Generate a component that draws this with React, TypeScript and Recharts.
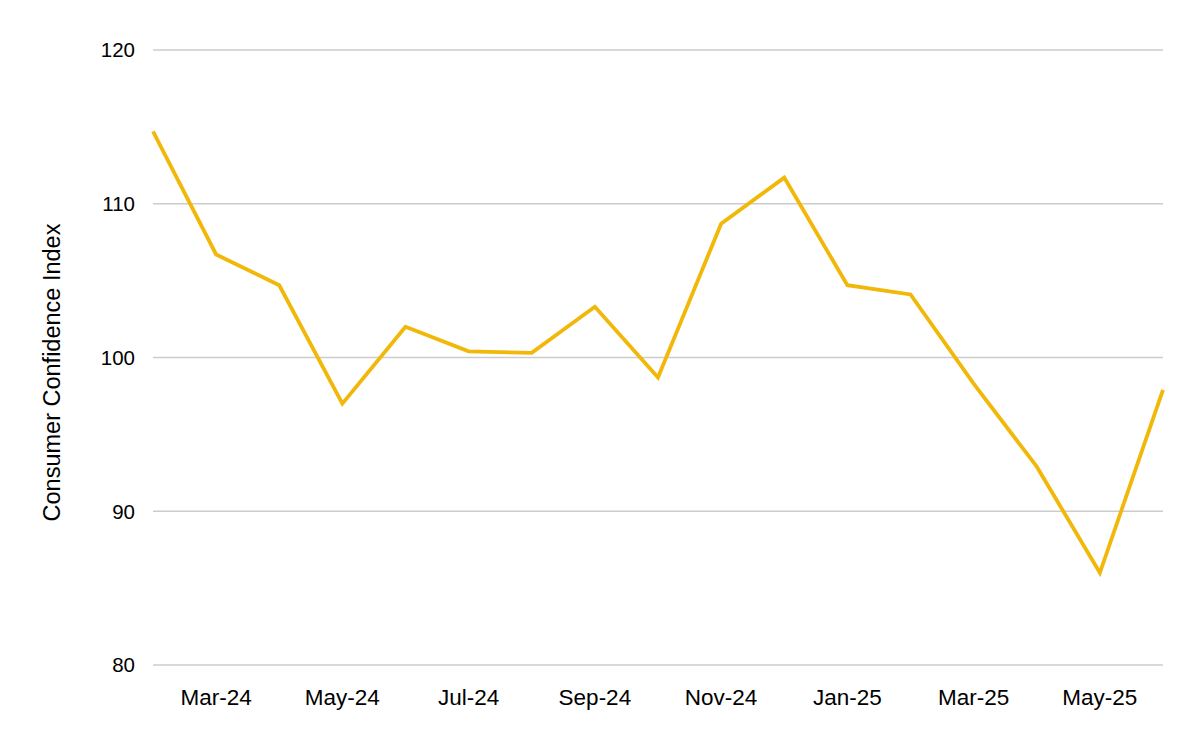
import React from "react";
import { LineChart, Line, XAxis, YAxis, CartesianGrid } from "recharts";

const months = [
  "Feb-24", "Mar-24", "Apr-24", "May-24", "Jun-24", "Jul-24", "Aug-24", "Sep-24",
  "Oct-24", "Nov-24", "Dec-24", "Jan-25", "Feb-25", "Mar-25", "Apr-25", "May-25", "Jun-25",
];
const confidence = [
  114.7, 106.7, 104.7, 97.0, 102.0, 100.4, 100.3, 103.3,
  98.7, 108.7, 111.7, 104.7, 104.1, 98.3, 92.9, 86.0, 97.9,
];
const xTicks = ["Mar-24", "May-24", "Jul-24", "Sep-24", "Nov-24", "Jan-25", "Mar-25", "May-25"];
const yTicks = [80, 90, 100, 110, 120];

const data = months.map((m, i) => ({ month: m, value: confidence[i] }));

const FONT = "'Liberation Sans', Arial, sans-serif";

const YLabel = (props: any) => {
  const vb = props.viewBox || {};
  const cx = vb.x + 52;
  const cy = vb.y + vb.height / 2 + 15;
  return (
    <text
      x={cx}
      y={cy}
      transform={`rotate(-90, ${cx}, ${cy})`}
      textAnchor="middle"
      dominantBaseline="central"
      fontFamily={FONT}
      fontSize={23.5}
      fill="#000"
    >
      Consumer Confidence Index
    </text>
  );
};

export default function App() {
  return (
    <div style={{ position: "absolute", left: 0, top: 0, background: "#fff" }}>
      <LineChart
        width={1200}
        height={742}
        data={data}
        margin={{ top: 50, right: 37, bottom: 0, left: 0 }}
      >
        <CartesianGrid horizontal vertical={false} stroke="#cccccc" strokeWidth={1.5} />
        <XAxis
          dataKey="month"
          ticks={xTicks}
          interval={0}
          axisLine={false}
          tickLine={false}
          tickMargin={18}
          height={77}
          tick={{ fontFamily: FONT, fontSize: 22.5, fill: "#000" }}
        />
        <YAxis
          domain={[80, 120]}
          ticks={yTicks}
          width={153}
          axisLine={false}
          tickLine={false}
          tickMargin={12}
          tick={{ fontFamily: FONT, fontSize: 20.5, fill: "#000" }}
          label={<YLabel />}
        />
        <Line
          type="linear"
          dataKey="value"
          stroke="#F1B80A"
          strokeWidth={3.8}
          dot={false}
          activeDot={false}
          isAnimationActive={false}
        />
      </LineChart>
    </div>
  );
}
